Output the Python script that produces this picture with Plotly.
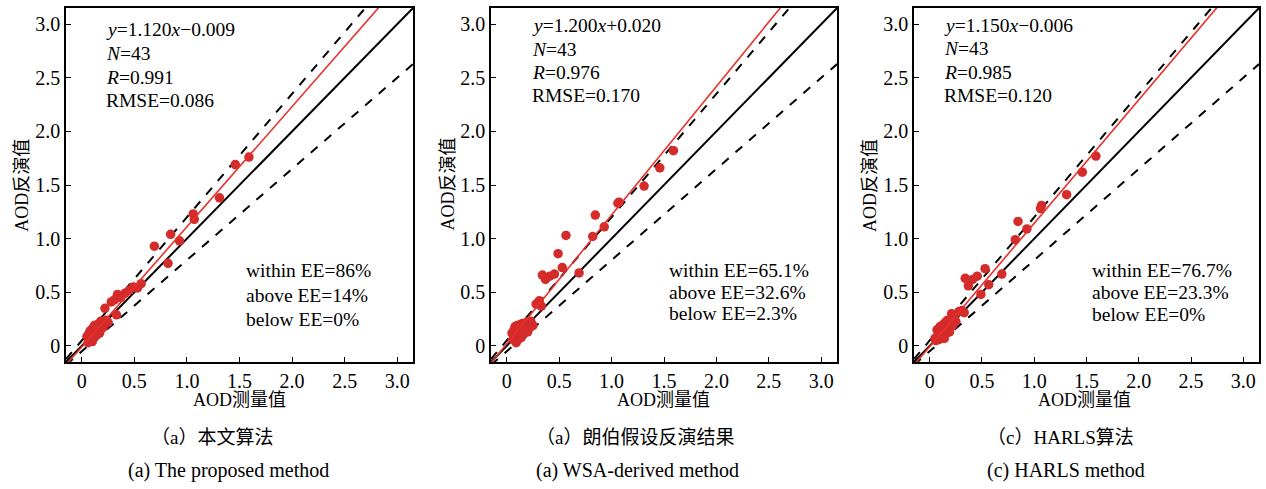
import plotly.graph_objects as go

# ---------------- data ----------------
x_meas = [1.59, 1.46, 1.31, 1.07, 1.06, 0.93, 0.845, 0.82, 0.69,
          0.565, 0.53, 0.49, 0.455, 0.41, 0.37, 0.34, 0.33, 0.31, 0.28,
          0.05, 0.06, 0.07, 0.08, 0.08, 0.09, 0.10, 0.10, 0.11, 0.12, 0.12, 0.13,
          0.14, 0.15, 0.15, 0.16, 0.17, 0.18, 0.19, 0.20, 0.21, 0.22, 0.23, 0.25]

y_proposed = [1.76, 1.69, 1.38, 1.18, 1.23, 0.98, 1.04, 0.77, 0.93,
              0.58, 0.54, 0.55, 0.52, 0.49, 0.45, 0.48, 0.29, 0.43, 0.41,
              0.09, 0.03, 0.12, 0.05, 0.14, 0.07, 0.16, 0.04, 0.12, 0.19, 0.08, 0.15,
              0.10, 0.20, 0.13, 0.17, 0.12, 0.23, 0.16, 0.21, 0.18, 0.35, 0.24, 0.22]

y_wsa = [1.82, 1.66, 1.49, 1.34, 1.33, 1.11, 1.22, 1.02, 0.68,
         1.03, 0.73, 0.86, 0.67, 0.65, 0.62, 0.66, 0.37, 0.42, 0.39,
         0.12, 0.06, 0.15, 0.18, 0.09, 0.03, 0.19, 0.12, 0.06, 0.17, 0.10, 0.20,
         0.08, 0.14, 0.21, 0.11, 0.18, 0.15, 0.22, 0.13, 0.20, 0.17, 0.23, 0.19]

y_harls = [1.77, 1.62, 1.41, 1.31, 1.28, 1.09, 1.16, 0.99, 0.67,
           0.57, 0.72, 0.48, 0.65, 0.62, 0.56, 0.63, 0.31, 0.33, 0.32,
           0.07, 0.05, 0.15, 0.09, 0.12, 0.06, 0.14, 0.18, 0.07, 0.15, 0.10, 0.20,
           0.07, 0.16, 0.22, 0.12, 0.24, 0.18, 0.13, 0.22, 0.30, 0.19, 0.27, 0.23]

fit_slope = [1.120, 1.200, 1.150]
fit_intercept = [-0.009, 0.020, -0.006]
fit_label = ["<i>y</i>=1.120<i>x</i>−0.009", "<i>y</i>=1.200<i>x</i>+0.020", "<i>y</i>=1.150<i>x</i>−0.006"]
n_label = ["<i>N</i>=43", "<i>N</i>=43", "<i>N</i>=43"]
r_label = ["<i>R</i>=0.991", "<i>R</i>=0.976", "<i>R</i>=0.985"]
rmse_label = ["RMSE=0.086", "RMSE=0.170", "RMSE=0.120"]
within_label = ["within EE=86%", "within EE=65.1%", "within EE=76.7%"]
above_label = ["above EE=14%", "above EE=32.6%", "above EE=23.3%"]
below_label = ["below EE=0%", "below EE=2.3%", "below EE=0%"]
caption_cn = ["（a）本文算法", "（a）朗伯假设反演结果", "（c）HARLS算法"]
caption_en = ["(a) The proposed method", "(a) WSA-derived method", "(c) HARLS method"]

tick_vals = [0, 0.5, 1.0, 1.5, 2.0, 2.5, 3.0]
tick_text = ["0", "0.5", "1.0", "1.5", "2.0", "2.5", "3.0"]
axis_range = [-0.15, 3.15]
ee_abs, ee_rel = 0.05, 0.15

# ---------------- layout helpers ----------------
W, H = 1266, 489
px = lambda v: v / W
py = lambda v: 1 - v / H

x_domains = [(66, 413), (491, 837), (914, 1259)]
y_dom = (py(362), py(8))

SERIF = "Liberation Serif, Times New Roman, serif"
CJK = "Liberation Serif, Noto Sans CJK SC, sans-serif"
RED_PT = "#d42b2b"
RED_LN = "#e8302a"

fig = go.Figure()
ys_all = [y_proposed, y_wsa, y_harls]
line_x = axis_range

stat_pos = [(104, [30, 53.5, 77, 100.5]), (530, [25.5, 49.3, 72.7, 96]), (941.7, [25.7, 49, 72, 95])]
ee_pos = [(244.3, [270.7, 295, 319.3]), (666.7, [270.7, 292, 313.3]), (1090, [270.7, 292.7, 314])]
xtitle_pos = [240, 663, 1084]
ytitle_pos = [(21.7, 185), (447.5, 184), (870, 186)]
cap_cn_pos = [212, 635, 1060]
cap_en_pos = [228, 637, 1066]

annotations = []
for i in range(3):
    xa = "x" if i == 0 else f"x{i+1}"
    ya = "y" if i == 0 else f"y{i+1}"
    # EE lines
    fig.add_trace(go.Scatter(x=line_x, y=[(1 + ee_rel) * v + ee_abs for v in line_x], mode="lines",
                             line=dict(color="black", width=2, dash="dash"), xaxis=xa, yaxis=ya,
                             showlegend=False, hoverinfo="skip"))
    fig.add_trace(go.Scatter(x=line_x, y=[(1 - ee_rel) * v - ee_abs for v in line_x], mode="lines",
                             line=dict(color="black", width=2, dash="dash"), xaxis=xa, yaxis=ya,
                             showlegend=False, hoverinfo="skip"))
    # 1:1 line
    fig.add_trace(go.Scatter(x=line_x, y=line_x, mode="lines",
                             line=dict(color="black", width=2), xaxis=xa, yaxis=ya,
                             showlegend=False, hoverinfo="skip"))
    # points
    fig.add_trace(go.Scatter(x=x_meas, y=ys_all[i], mode="markers",
                             marker=dict(color=RED_PT, size=9.5, line=dict(width=0)),
                             xaxis=xa, yaxis=ya, showlegend=False))
    # fit line
    fig.add_trace(go.Scatter(x=line_x, y=[fit_slope[i] * v + fit_intercept[i] for v in line_x], mode="lines",
                             line=dict(color=RED_LN, width=1.6), xaxis=xa, yaxis=ya,
                             showlegend=False, hoverinfo="skip"))

    axis_common = dict(range=axis_range, tickvals=tick_vals, ticktext=tick_text,
                       ticks="inside", ticklen=5, tickwidth=1.2, tickcolor="black",
                       showline=True, linecolor="black", linewidth=1.5, mirror=True,
                       showgrid=False, zeroline=False,
                       tickfont=dict(family=SERIF, size=20, color="black"))
    fig.update_layout(**{
        ("xaxis" if i == 0 else f"xaxis{i+1}"): dict(domain=[px(x_domains[i][0]), px(x_domains[i][1])],
                                                      anchor=ya, **axis_common),
        ("yaxis" if i == 0 else f"yaxis{i+1}"): dict(domain=list(y_dom), anchor=xa, **axis_common),
    })

    sx, sys_ = stat_pos[i]
    for txt, yy in zip([fit_label[i], n_label[i], r_label[i], rmse_label[i]], sys_):
        annotations.append(dict(x=px(sx), y=py(yy), xref="paper", yref="paper", text=txt,
                                showarrow=False, xanchor="left", yanchor="middle",
                                font=dict(family=SERIF, size=19.5, color="black")))
    ex, eys = ee_pos[i]
    for txt, yy in zip([within_label[i], above_label[i], below_label[i]], eys):
        annotations.append(dict(x=px(ex), y=py(yy), xref="paper", yref="paper", text=txt,
                                showarrow=False, xanchor="left", yanchor="middle",
                                font=dict(family=SERIF, size=19.5, color="black")))
    annotations.append(dict(x=px(xtitle_pos[i]), y=py(400), xref="paper", yref="paper", text="AOD测量值",
                            showarrow=False, xanchor="center", yanchor="middle",
                            font=dict(family=CJK, size=18, color="black")))
    annotations.append(dict(x=px(ytitle_pos[i][0]), y=py(ytitle_pos[i][1]), xref="paper", yref="paper",
                            text="AOD反演值", textangle=-90, showarrow=False,
                            xanchor="center", yanchor="middle",
                            font=dict(family=CJK, size=18, color="black")))
    annotations.append(dict(x=px(cap_cn_pos[i]), y=py(437), xref="paper", yref="paper", text=caption_cn[i],
                            showarrow=False, xanchor="center", yanchor="middle",
                            font=dict(family=CJK, size=19, color="black")))
    annotations.append(dict(x=px(cap_en_pos[i]), y=py(470), xref="paper", yref="paper", text=caption_en[i],
                            showarrow=False, xanchor="center", yanchor="middle",
                            font=dict(family=SERIF, size=20, color="black")))

fig.update_layout(width=W, height=H, margin=dict(l=0, r=0, t=0, b=0),
                  paper_bgcolor="white", plot_bgcolor="white",
                  annotations=annotations, showlegend=False)

fig.write_html("out.html")
